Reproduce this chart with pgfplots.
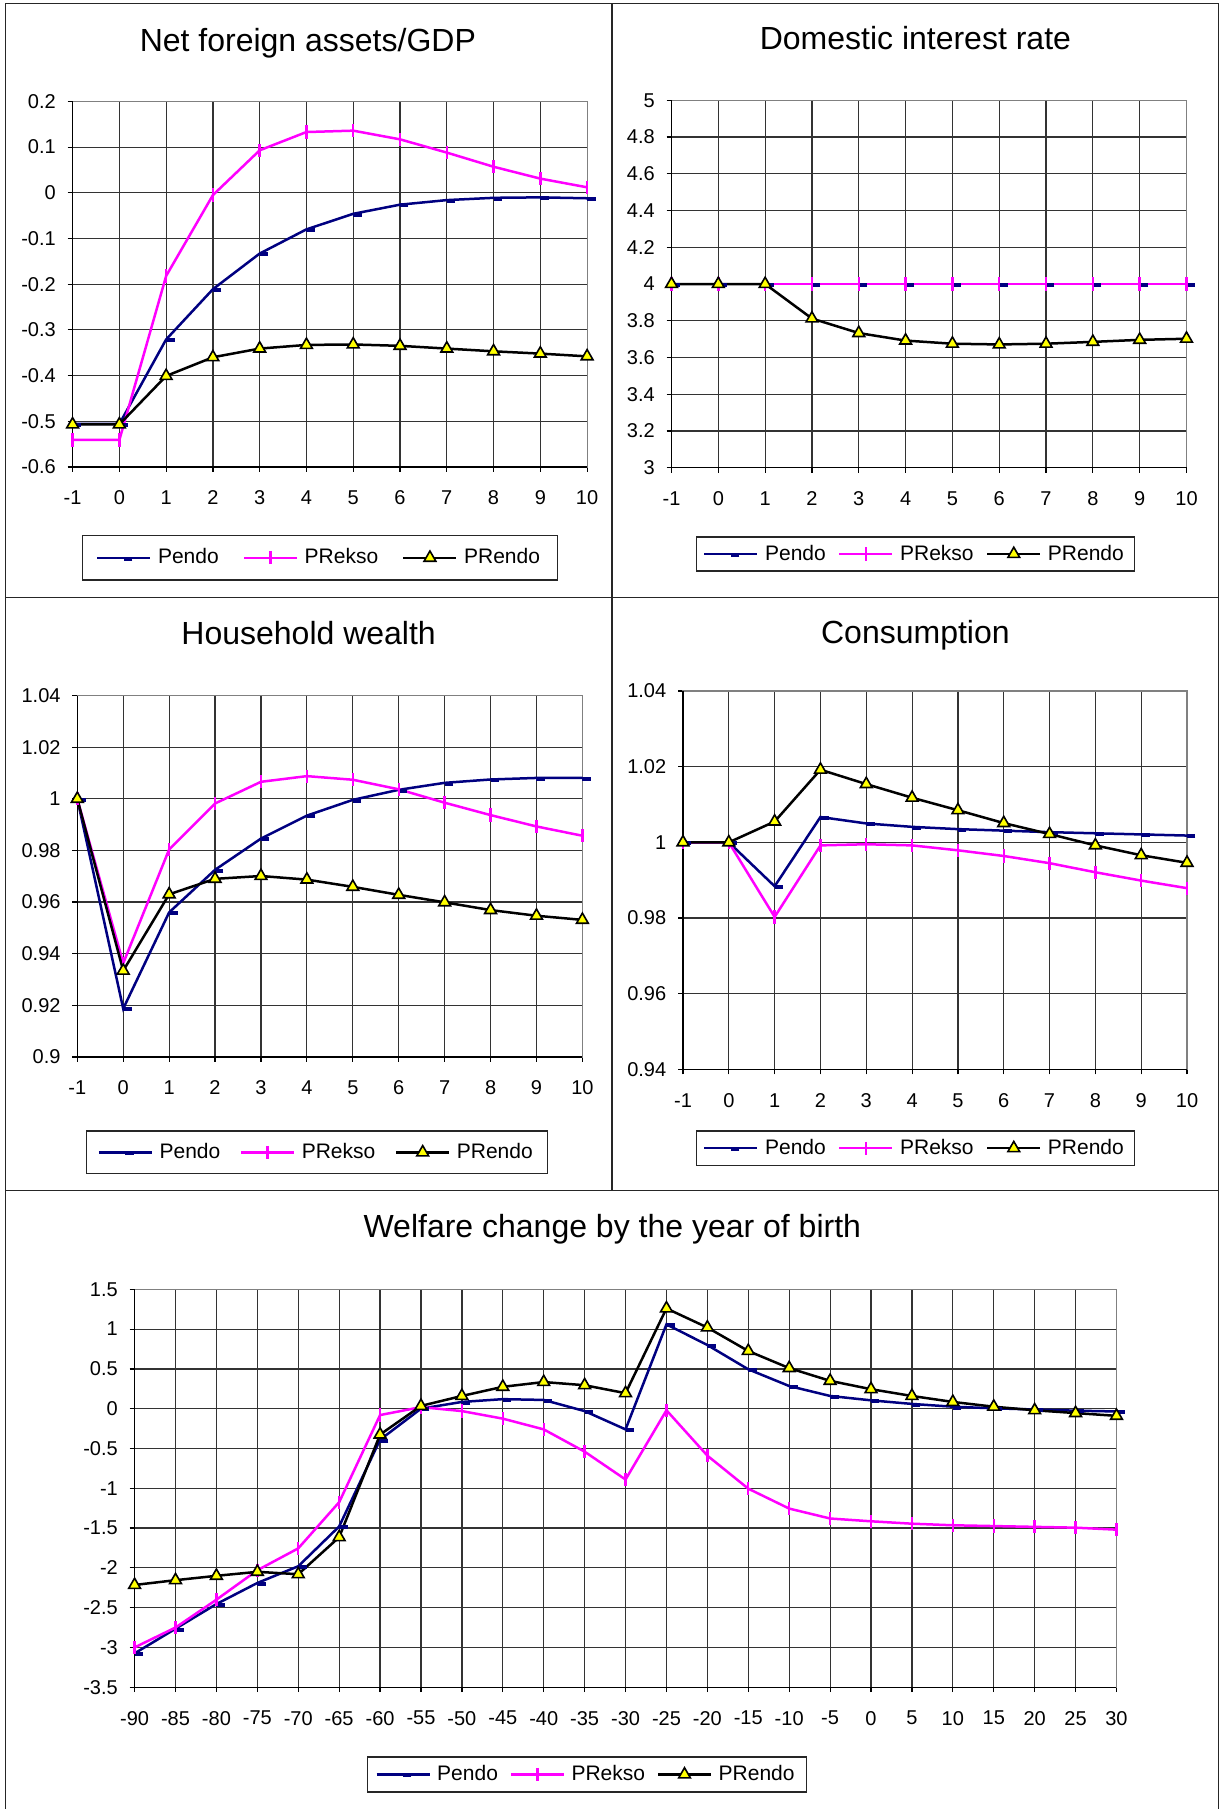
\documentclass[border=0pt]{standalone}
\usepackage{fontspec}
\setmainfont{Liberation Sans}
\usepackage{pgfplots}
\pgfplotsset{compat=1.18}
\definecolor{navy}{RGB}{0,0,128}
\definecolor{mag}{RGB}{255,0,255}
\definecolor{yel}{RGB}{255,255,0}
\pgfplotsset{
  excel/.style={
    scale only axis,
    anchor=south west,
    clip=false,
    axis line style={draw=black!50, line width=0.6pt},
    grid=major,
    major grid style={draw=black!80, line width=0.6pt},
    tick align=outside,
    major tick length=2.5pt,
    tick style={black, line width=0.6pt},
    xtick pos=left, ytick pos=left,
    tick label style={font=\fontsize{10}{12}\selectfont, inner sep=0pt},
    yticklabel shift=5.7pt,
    xticklabel shift=9.3pt,
    title style={at={(0.5,1)}, anchor=base, font=\fontsize{16}{19}\selectfont},
    legend columns=3,
    legend cell align=left,
    legend style={anchor=center, draw=black!85, line width=0.6pt,
      font=\fontsize{10.5}{12}\selectfont,
      /tikz/every odd column/.append style={column sep=1.2pt}},
    legend image code/.code={\draw[mark repeat=2,mark phase=2,##1] plot coordinates {(0pt,0pt) (13.25pt,0pt) (26.5pt,0pt)};},
    execute at end axis={\draw[black, line width=0.6pt] (rel axis cs:0,1) -- (rel axis cs:0,0) -- (rel axis cs:1,0);},
  },
  sPendo/.style={navy, line width=1.25pt, mark=-, mark size=2.1pt, mark options={line width=2pt, xshift=2.1pt, yshift=-0.4pt}},
  sPRekso/.style={mag, line width=1.25pt, mark=|, mark size=3.3pt, mark options={line width=1.2pt}},
  sPRendo/.style={black, line width=1.25pt, mark=triangle*, mark size=3.4pt, mark options={fill=yel, draw=black, line width=0.8pt}},
  shortx/.style={xmin=-1, xmax=10, xtick={-1,0,1,2,3,4,5,6,7,8,9,10},
    xticklabels={-1,0,1,2,3,4,5,6,7,8,9,10}},
}
\begin{document}
\begin{tikzpicture}
\begin{scope}[x=0.5pt,y=-0.5pt]
\useasboundingbox (0,0) rectangle (1220,1809);
\draw[line width=0.7pt, black!85] (5.5,1809.5) -- (5.5,3.7) -- (1218.7,3.7) -- (1218.7,1809.5);
\draw[line width=0.7pt, black!85] (612,3.7) -- (612,1190.7);
\draw[line width=0.7pt, black!85] (5.5,597.3) -- (1218.7,597.3);
\draw[line width=0.7pt, black!85] (5.5,1190.7) -- (1218.7,1190.7);
\end{scope}

% Panel 1
\begin{axis}[excel, shortx, at={(36.3pt,-233.45pt)}, width=257.25pt, height=182.75pt,
  ymin=-0.6, ymax=0.2,
  ytick={-0.6,-0.5,-0.4,-0.3,-0.2,-0.1,0,0.1,0.2},
  yticklabels={-0.6,-0.5,-0.4,-0.3,-0.2,-0.1,0,0.1,0.2},
  title={Net foreign assets/GDP}, title style={xshift=-11pt, yshift=19.2pt},
  legend style={at={(0.481,-0.2487)}, inner xsep=6.7pt, inner ysep=4.5pt,
    /tikz/every even column/.append style={column sep=10pt}}]
\addplot[sPendo] coordinates {(-1,-0.506)(0,-0.506)(1,-0.321)(2,-0.211)(3,-0.133)(4,-0.080)(5,-0.046)(6,-0.026)(7,-0.016)(8,-0.011)(9,-0.010)(10,-0.012)};
\addplot[sPRekso] coordinates {(-1,-0.541)(0,-0.541)(1,-0.182)(2,-0.005)(3,0.093)(4,0.133)(5,0.136)(6,0.117)(7,0.088)(8,0.057)(9,0.031)(10,0.012)};
\addplot[sPRendo] coordinates {(-1,-0.507)(0,-0.507)(1,-0.401)(2,-0.360)(3,-0.341)(4,-0.333)(5,-0.332)(6,-0.335)(7,-0.341)(8,-0.347)(9,-0.352)(10,-0.358)};
\legend{Pendo,PRekso,PRendo}
\end{axis}

% Panel 2
\begin{axis}[excel, shortx, at={(335.75pt,-233.85pt)}, width=257.5pt, height=183.7pt,
  ymin=3, ymax=5,
  ytick={3,3.2,3.4,3.6,3.8,4,4.2,4.4,4.6,4.8,5},
  yticklabels={3,3.2,3.4,3.6,3.8,4,4.2,4.4,4.6,4.8,5},
  title={Domestic interest rate}, title style={xshift=-6.8pt, yshift=19.5pt},
  legend style={at={(0.4738,-0.2349)}, inner xsep=3.5pt, inner ysep=1.9pt,
    /tikz/every even column/.append style={column sep=4.2pt}}]
\addplot[sPendo] coordinates {(-1,4)(0,4)(1,4)(2,4)(3,4)(4,4)(5,4)(6,4)(7,4)(8,4)(9,4)(10,4)};
\addplot[sPRekso] coordinates {(-1,4)(0,4)(1,4)(2,4)(3,4)(4,4)(5,4)(6,4)(7,4)(8,4)(9,4)(10,4)};
\addplot[sPRendo] coordinates {(-1,4)(0,4)(1,4)(2,3.812)(3,3.733)(4,3.692)(5,3.675)(6,3.671)(7,3.675)(8,3.685)(9,3.696)(10,3.702)};
\legend{Pendo,PRekso,PRendo}
\end{axis}

% Panel 3
\begin{axis}[excel, shortx, at={(38.65pt,-528.45pt)}, width=252.55pt, height=180.65pt,
  ymin=0.9, ymax=1.04,
  ytick={0.9,0.92,0.94,0.96,0.98,1,1.02,1.04},
  yticklabels={0.9,0.92,0.94,0.96,0.98,1,1.02,1.04},
  title={Household wealth}, title style={xshift=-10.6pt, yshift=19.5pt},
  legend style={at={(0.475,-0.2643)}, inner xsep=5.5pt, inner ysep=4.1pt,
    /tikz/every even column/.append style={column sep=7.8pt}}]
\addplot[sPendo] coordinates {(-1,1.000)(0,0.9187)(1,0.956)(2,0.9725)(3,0.9846)(4,0.9935)(5,0.9996)(6,1.0035)(7,1.0062)(8,1.0075)(9,1.0081)(10,1.0081)};
\addplot[sPRekso] coordinates {(-1,1.000)(0,0.9363)(1,0.9804)(2,0.9982)(3,1.0066)(4,1.0088)(5,1.0074)(6,1.0037)(7,0.9985)(8,0.9937)(9,0.9893)(10,0.9857)};
\addplot[sPRendo] coordinates {(-1,1.000)(0,0.9334)(1,0.963)(2,0.969)(3,0.9701)(4,0.9687)(5,0.9659)(6,0.9628)(7,0.9599)(8,0.9569)(9,0.9547)(10,0.9531)};
\legend{Pendo,PRekso,PRendo}
\end{axis}

% Panel 4
\begin{axis}[excel, shortx, at={(341.5pt,-534.7pt)}, width=252pt, height=189.2pt,
  ymin=0.94, ymax=1.04,
  ytick={0.94,0.96,0.98,1,1.02,1.04},
  yticklabels={0.94,0.96,0.98,1,1.02,1.04},
  title={Consumption}, title style={xshift=-9.8pt, yshift=17.6pt},
  legend style={at={(0.4613,-0.2082)}, inner xsep=3.5pt, inner ysep=2pt,
    /tikz/every even column/.append style={column sep=4.2pt}}]
\addplot[sPendo] coordinates {(-1,1)(0,1)(1,0.9884)(2,1.0067)(3,1.0050)(4,1.0041)(5,1.0035)(6,1.0031)(7,1.0027)(8,1.0024)(9,1.0021)(10,1.0018)};
\addplot[sPRekso] coordinates {(-1,1)(0,1)(1,0.9803)(2,0.9992)(3,0.9995)(4,0.9992)(5,0.9979)(6,0.9964)(7,0.9945)(8,0.9921)(9,0.9899)(10,0.9879)};
\addplot[sPRendo] coordinates {(-1,1)(0,1)(1,1.0055)(2,1.0192)(3,1.0154)(4,1.0118)(5,1.0085)(6,1.0051)(7,1.0022)(8,0.9992)(9,0.9966)(10,0.9946)};
\legend{Pendo,PRekso,PRendo}
\end{axis}

% Panel 5
\begin{axis}[excel, at={(67.3pt,-843.6pt)}, width=490.95pt, height=198.95pt,
  xmin=-90, xmax=30,
  xtick={-90,-85,-80,-75,-70,-65,-60,-55,-50,-45,-40,-35,-30,-25,-20,-15,-10,-5,0,5,10,15,20,25,30},
  xticklabels={-90,-85,-80,-75,-70,-65,-60,-55,-50,-45,-40,-35,-30,-25,-20,-15,-10,-5,0,5,10,15,20,25,30},
  ymin=-3.5, ymax=1.5,
  ytick={-3.5,-3,-2.5,-2,-1.5,-1,-0.5,0,0.5,1,1.5},
  yticklabels={-3.5,-3,-2.5,-2,-1.5,-1,-0.5,0,0.5,1,1.5},
  title={Welfare change by the year of birth}, title style={xshift=-6.6pt, yshift=19.9pt},
  legend style={at={(0.4607,-0.2194)}, inner xsep=3.9pt, inner ysep=2.2pt,
    /tikz/every even column/.append style={column sep=3.85pt}}]
\addplot[sPendo] coordinates {(-90,-3.075)(-85,-2.765)(-80,-2.455)(-75,-2.19)(-70,-1.98)(-65,-1.48)(-60,-0.39)(-55,0.0)(-50,0.085)(-45,0.12)(-40,0.11)(-35,-0.03)(-30,-0.26)(-25,1.06)(-20,0.80)(-15,0.495)(-10,0.285)(-5,0.16)(0,0.105)(5,0.06)(10,0.025)(15,0.005)(20,-0.01)(25,-0.025)(30,-0.035)};
\addplot[sPRekso] coordinates {(-90,-3.0)(-85,-2.75)(-80,-2.4)(-75,-2.03)(-70,-1.755)(-65,-1.175)(-60,-0.08)(-55,0.02)(-50,-0.03)(-45,-0.125)(-40,-0.26)(-35,-0.54)(-30,-0.89)(-25,-0.02)(-20,-0.59)(-15,-1.005)(-10,-1.255)(-5,-1.38)(0,-1.415)(5,-1.445)(10,-1.465)(15,-1.475)(20,-1.485)(25,-1.495)(30,-1.52)};
\addplot[sPRendo] coordinates {(-90,-2.215)(-85,-2.155)(-80,-2.10)(-75,-2.05)(-70,-2.08)(-65,-1.615)(-60,-0.325)(-55,0.035)(-50,0.16)(-45,0.275)(-40,0.335)(-35,0.295)(-30,0.195)(-25,1.26)(-20,1.02)(-15,0.725)(-10,0.51)(-5,0.35)(0,0.245)(5,0.16)(10,0.085)(15,0.025)(20,-0.02)(25,-0.055)(30,-0.09)};
\legend{Pendo,PRekso,PRendo}
\end{axis}
\end{tikzpicture}
\end{document}
